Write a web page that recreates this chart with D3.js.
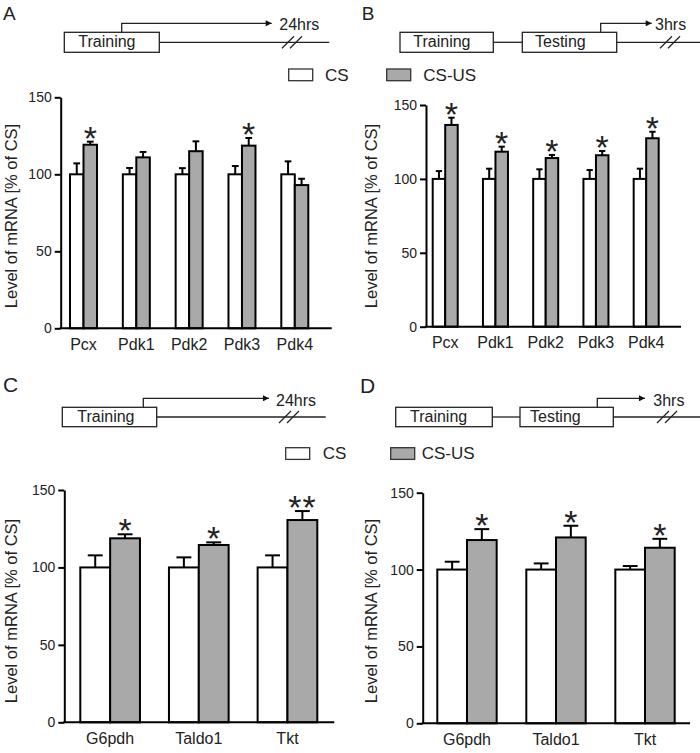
<!DOCTYPE html>
<html>
<head>
<meta charset="utf-8">
<script src="https://cdn.jsdelivr.net/npm/d3@7"></script>
<style>
  html, body { margin: 0; padding: 0; background: #fff; }
  svg { display: block; font-family: "Liberation Sans", Arial, sans-serif; }
</style>
</head>
<body>
<svg id="chart" width="700" height="753"></svg>
<script>
// ---------------- DATA ----------------
const catsAB = ["Pcx", "Pdk1", "Pdk2", "Pdk3", "Pdk4"];
const catsCD = ["G6pdh", "Taldo1", "Tkt"];
const yTicks = [0, 50, 100, 150];
const seriesNames = ["CS", "CS-US"];

// Panel A (24 hrs after training)
const aCS = [100, 100, 100, 100, 100];
const aCSErr = [7.1, 4.1, 4.0, 5.4, 8.4];
const aUS = [119.2, 111.0, 115.0, 118.6, 93.0];
const aUSErr = [2.0, 3.5, 6.4, 5.0, 4.1];
const aSig = ["*", "", "", "*", ""];

// Panel B (3 hrs after testing)
const bCS = [100, 100, 100, 100, 100];
const bCSErr = [5.3, 6.9, 6.5, 6.0, 6.9];
const bUS = [136.5, 118.4, 114.1, 116.0, 127.5];
const bUSErr = [4.9, 3.4, 2.1, 2.9, 4.4];
const bSig = ["*", "*", "*", "*", "*"];

// Panel C (24 hrs after training)
const cCS = [100, 100, 100];
const cCSErr = [7.8, 6.5, 7.8];
const cUS = [118.8, 114.5, 130.6];
const cUSErr = [2.6, 1.7, 5.8];
const cSig = ["*", "*", "**"];

// Panel D (3 hrs after testing)
const dCS = [100, 100, 100];
const dCSErr = [5.1, 4.0, 2.3];
const dUS = [119.2, 120.9, 114.2];
const dUSErr = [7.1, 7.6, 5.8];
const dSig = ["*", "*", "*"];

// ---------------- STYLE ----------------
const GREY = "#a9a9a9";
const FONT = "'Liberation Sans', Arial, sans-serif";
const svg = d3.select("#chart");

// ---------------- PANELS ----------------
const panels = [
  { cats: catsAB, cs: aCS, csErr: aCSErr, us: aUS, usErr: aUSErr, sig: aSig,
    axisX: 60.7, axisR: 331.7, yB: 328.3, yT: 97.3, gL: 70, gR: 308.3, pad: 0.489, titleX: 11, titleY: 216 },
  { cats: catsAB, cs: bCS, csErr: bCSErr, us: bUS, usErr: bUSErr, sig: bSig,
    axisX: 426, axisR: 681, yB: 326.7, yT: 105, gL: 432.7, gR: 658.7, pad: 0.502, titleX: 370.5, titleY: 216 },
  { cats: catsCD, cs: cCS, csErr: cCSErr, us: cUS, usErr: cUSErr, sig: cSig,
    axisX: 64.3, axisR: 334.3, yB: 722.3, yT: 490, gL: 80.3, gR: 317.3, pad: 0.327, titleX: 11, titleY: 611 },
  { cats: catsCD, cs: dCS, csErr: dCSErr, us: dUS, usErr: dUSErr, sig: dSig,
    axisX: 422.7, axisR: 690, yB: 723.3, yT: 492.7, gL: 437.3, gR: 674.7, pad: 0.333, titleX: 370.5, titleY: 611 }
];

panels.forEach(p => {
  const g = svg.append("g");
  const y = d3.scaleLinear().domain([0, 150]).range([p.yB, p.yT]);
  const x = d3.scaleBand().domain(p.cats).range([p.gL, p.gR]).paddingInner(p.pad).paddingOuter(0);
  const xs = d3.scaleBand().domain(seriesNames).range([0, x.bandwidth()]);

  const rows = p.cats.map((c, i) => ({
    cat: c,
    vals: [
      { s: "CS", v: p.cs[i], e: p.csErr[i], sig: "" },
      { s: "CS-US", v: p.us[i], e: p.usErr[i], sig: p.sig[i] }
    ]
  }));

  const grp = g.selectAll("g.grp").data(rows).join("g")
    .attr("transform", d => `translate(${x(d.cat)},0)`);

  const item = grp.selectAll("g.item").data(d => d.vals).join("g");

  // error bars (upward only)
  item.append("line")
    .attr("x1", d => xs(d.s) + xs.bandwidth() / 2)
    .attr("x2", d => xs(d.s) + xs.bandwidth() / 2)
    .attr("y1", d => y(d.v))
    .attr("y2", d => y(d.v + d.e))
    .attr("stroke", "#000").attr("stroke-width", 2);
  item.append("line")
    .attr("x1", d => xs(d.s) + xs.bandwidth() / 4)
    .attr("x2", d => xs(d.s) + xs.bandwidth() * 3 / 4)
    .attr("y1", d => y(d.v + d.e))
    .attr("y2", d => y(d.v + d.e))
    .attr("stroke", "#000").attr("stroke-width", 2);

  // bars
  item.append("rect")
    .attr("x", d => xs(d.s))
    .attr("width", xs.bandwidth())
    .attr("y", d => y(d.v))
    .attr("height", d => y(0) - y(d.v))
    .attr("fill", d => d.s === "CS" ? "#fff" : GREY)
    .attr("stroke", "#000").attr("stroke-width", 2);

  // significance
  item.filter(d => d.sig).append("text")
    .attr("x", d => xs(d.s) + xs.bandwidth() / 2)
    .attr("y", d => y(d.v + d.e) + 8)
    .attr("text-anchor", "middle")
    .attr("font-size", 34)
    .attr("letter-spacing", d => d.sig.length > 1 ? 1 : 0)
    .attr("font-family", FONT)
    .attr("fill", "#222")
    .text(d => d.sig);

  // y axis
  const ya = g.append("g").attr("transform", `translate(${p.axisX},0)`)
    .call(d3.axisLeft(y).tickValues(yTicks).tickSize(6).tickSizeOuter(0).tickPadding(3));
  ya.select(".domain").attr("stroke-width", 2);
  ya.selectAll(".tick line").attr("stroke-width", 2);
  ya.selectAll("text").attr("font-size", 14).attr("font-family", FONT).attr("fill", "#222");

  // x axis
  const xa = g.append("g").attr("transform", `translate(0,${p.yB})`)
    .call(d3.axisBottom(x).tickSize(0).tickPadding(10));
  xa.select(".domain").remove();
  xa.selectAll("text").attr("font-size", 16).attr("font-family", FONT).attr("fill", "#222");
  g.append("line").attr("x1", p.axisX - 1).attr("x2", p.axisR)
    .attr("y1", p.yB).attr("y2", p.yB).attr("stroke", "#000").attr("stroke-width", 2);

  // y title
  g.append("text")
    .attr("transform", `translate(${p.titleX},${p.titleY}) rotate(-90)`)
    .attr("text-anchor", "middle").attr("dominant-baseline", "central")
    .attr("font-size", 16.5).attr("font-family", FONT).attr("fill", "#222")
    .text("Level of mRNA [% of CS]");
});

// ---------------- LEGENDS ----------------
const legends = [
  { y: 69, items: [{ s: "CS", bx: 288.7, tx: 325 }, { s: "CS-US", bx: 386.7, tx: 423.3 }] },
  { y: 447.7, items: [{ s: "CS", bx: 285.7, tx: 322.7 }, { s: "CS-US", bx: 390.7, tx: 421.7 }] }
];
legends.forEach(L => {
  L.items.forEach(it => {
    svg.append("rect").attr("x", it.bx).attr("y", L.y).attr("width", 24).attr("height", 11.7)
      .attr("fill", it.s === "CS" ? "#fff" : GREY).attr("stroke", "#333").attr("stroke-width", 1.3);
    svg.append("text").attr("x", it.tx).attr("y", L.y + 11.5)
      .attr("font-size", 17).attr("font-family", FONT).attr("fill", "#222").text(it.s);
  });
});

// ---------------- TIMELINES ----------------
const timelines = [
  { letter: "A", lx: 3, ly: 20, ls: 19, by0: 32.3, by1: 52.3, boxes: [[64.3, 159.3, "Training", 78.3]],
    lineEnd: 329.3, arrowX: 121.7, arrowTop: 23.3, arrowTip: 271.7, hrs: "24hrs", hrsX: 279.3, hrsY: 29.8, slashX: 282 },
  { letter: "B", lx: 361.7, ly: 20, ls: 19, by0: 32.3, by1: 52.3, boxes: [[400, 493.3, "Training", 413.3], [522.3, 616.7, "Testing", 535]],
    lineEnd: 700, arrowX: 600.7, arrowTop: 23.3, arrowTip: 651.7, hrs: "3hrs", hrsX: 655, hrsY: 29.8, slashX: 660 },
  { letter: "C", lx: 3, ly: 391.5, ls: 21, by0: 407.3, by1: 426.7, boxes: [[62.3, 156.7, "Training", 77.3]],
    lineEnd: 325.7, arrowX: 143.3, arrowTop: 398.3, arrowTip: 269, hrs: "24hrs", hrsX: 276, hrsY: 406, slashX: 279 },
  { letter: "D", lx: 360, ly: 392.5, ls: 21, by0: 407.3, by1: 426.7, boxes: [[395.7, 492.3, "Training", 410], [520, 613.3, "Testing", 530]],
    lineEnd: 700, arrowX: 597.3, arrowTop: 398.3, arrowTip: 645, hrs: "3hrs", hrsX: 653.3, hrsY: 406, slashX: 657 }
];

svg.append("defs").append("marker")
  .attr("id", "arrow").attr("viewBox", "0 0 10 10").attr("refX", 10).attr("refY", 5)
  .attr("markerWidth", 8).attr("markerHeight", 6).attr("markerUnits", "userSpaceOnUse")
  .attr("orient", "auto")
  .append("path").attr("d", "M0,0 L10,5 L0,10 Z").attr("fill", "#111");

timelines.forEach(t => {
  const g = svg.append("g");
  const lineY = (t.by0 + t.by1) / 2;
  g.append("text").attr("x", t.lx).attr("y", t.ly).attr("font-size", t.ls)
    .attr("font-family", FONT).attr("fill", "#222").text(t.letter);
  t.boxes.forEach((b, i) => {
    g.append("rect").attr("x", b[0]).attr("y", t.by0).attr("width", b[1] - b[0]).attr("height", t.by1 - t.by0)
      .attr("fill", "#fff").attr("stroke", "#222").attr("stroke-width", 1.3);
    g.append("text").attr("x", b[3]).attr("y", t.by1 - 5).attr("font-size", 16)
      .attr("font-family", FONT).attr("fill", "#222").text(b[2]);
    const next = i + 1 < t.boxes.length ? t.boxes[i + 1][0] : t.lineEnd;
    g.append("line").attr("x1", b[1]).attr("x2", next).attr("y1", lineY).attr("y2", lineY)
      .attr("stroke", "#222").attr("stroke-width", 1.3);
  });
  g.append("path")
    .attr("d", `M${t.arrowX},${t.by0} V${t.arrowTop} H${t.arrowTip}`)
    .attr("fill", "none").attr("stroke", "#222").attr("stroke-width", 1.3)
    .attr("marker-end", "url(#arrow)");
  g.append("text").attr("x", t.hrsX).attr("y", t.hrsY).attr("font-size", 16)
    .attr("font-family", FONT).attr("fill", "#222").text(t.hrs);
  [0, 8].forEach(o => {
    g.append("line").attr("x1", t.slashX + o).attr("y1", lineY + 6)
      .attr("x2", t.slashX + o + 12).attr("y2", lineY - 6)
      .attr("stroke", "#222").attr("stroke-width", 1.3);
  });
});
</script>
</body>
</html>
